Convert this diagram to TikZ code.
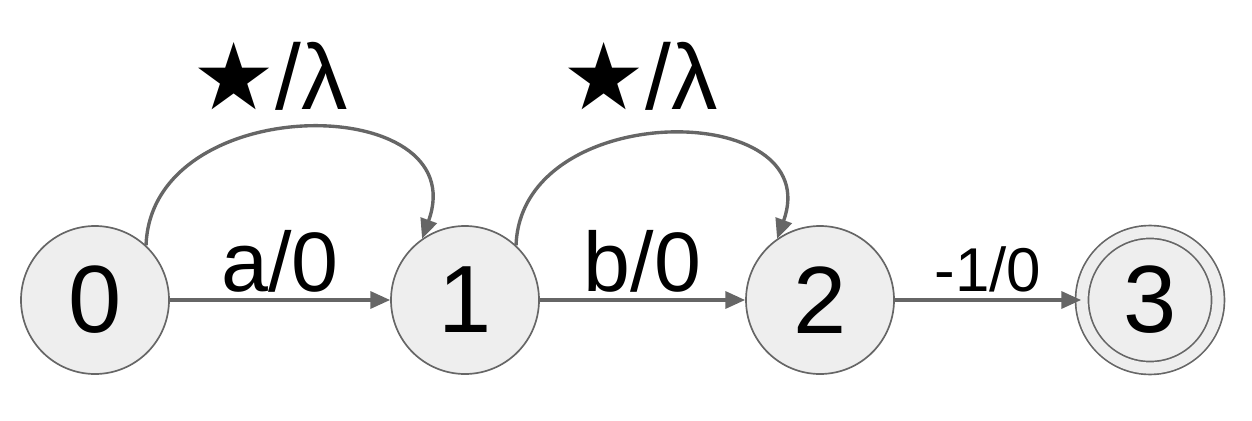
\documentclass[tikz,border=0pt]{standalone}
\usepackage{fontspec}
\setmainfont{Liberation Sans}
\newfontfamily\symfont{DejaVu Sans}
\usetikzlibrary{arrows.meta}
\definecolor{edgegray}{HTML}{666666}
\definecolor{fillgray}{HTML}{EEEEEE}
\tikzset{
  state/.style={circle,draw=edgegray,fill=fillgray,line width=1.2pt,minimum size=3.7cm,inner sep=0pt,font=\fontsize{68}{76}\selectfont},
  accept/.style={state,double=fillgray,double distance=0.28cm,minimum size=3.4cm},
  trans/.style={draw=edgegray,line width=2.4pt,-{Triangle[length=14pt,width=12pt]}},
  lbl/.style={font=\fontsize{60}{68}\selectfont},
}
\begin{document}
\begin{tikzpicture}
\useasboundingbox (0,0) rectangle (31.3,10.5);
\node[state] (s0) at (2.375,3) {0};
\node[state] (s1) at (11.625,3) {1};
\node[state] (s2) at (20.5,3) {2};
\node[accept] (s3) at (28.75,3) {3};

\draw[trans] (s0) -- (s1) node[midway,above=1pt,lbl] {a/0};
\draw[trans] (s1) -- (s2) node[midway,above=1pt,lbl] {b/0};
\draw[trans] (s2) -- (s3) node[midway,above=1pt,lbl,font=\fontsize{44}{52}\selectfont] {-1/0};

\draw[trans] (s0.47) to[out=88,in=70,looseness=1.45] (s1.125);
\draw[trans] (s1.47) to[out=88,in=70,looseness=1.45] (s2.125);
\node[lbl,font=\fontsize{66}{74}\selectfont] (loop01) at (6.75,8.6) {{\symfont ★}/λ};
\node[lbl,font=\fontsize{66}{74}\selectfont] (loop12) at (16,8.6) {{\symfont ★}/λ};
\end{tikzpicture}
\end{document}
